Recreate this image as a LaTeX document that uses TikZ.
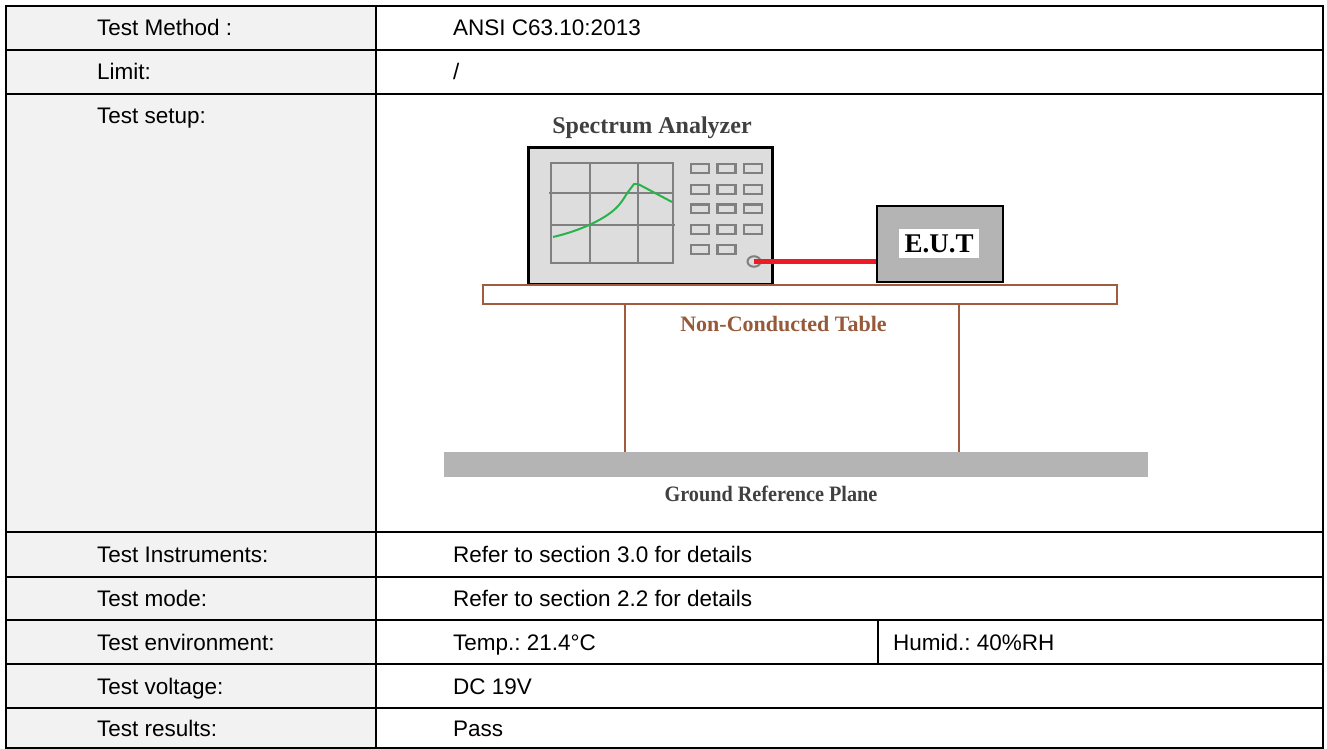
\documentclass[tikz,border=0pt]{standalone}
\usepackage{fontspec}
\usetikzlibrary{shapes.geometric}
\setmainfont{Liberation Sans}
\newfontfamily\serifbf{Liberation Serif}
\newfontfamily\serifcond{Liberation Serif}[FakeStretch=0.92]
\definecolor{leftgray}{RGB}{242,242,242}
\definecolor{safill}{RGB}{221,221,221}
\definecolor{gridgray}{RGB}{128,128,128}
\definecolor{curvegreen}{RGB}{40,180,75}
\definecolor{cablered}{RGB}{237,28,36}
\definecolor{eutgray}{RGB}{180,180,180}
\definecolor{tablebrown}{RGB}{160,92,60}
\definecolor{labelbrown}{RGB}{150,90,58}
\definecolor{titlegray}{RGB}{64,64,64}
\frenchspacing
\begin{document}
\begin{tikzpicture}[x=1pt,y=-1pt,
  rule/.style={line width=1.8pt,black},
  lbl/.style={font=\fontsize{22.5}{26}\selectfont,anchor=base west,inner sep=0pt},
  sabox/.style={draw=black,line width=3pt,fill=safill,inner sep=0pt},
  btn/.style={draw=gridgray,line width=2.1pt,fill=safill,inner sep=0pt,minimum width=18pt,minimum height=8.7pt},
  gridln/.style={draw=gridgray,line width=1.6pt},
  eutbox/.style={draw=black,line width=2.5pt,fill=eutgray,inner sep=0pt},
  cable/.style={draw=cablered,line width=4.5pt},
  tabletop/.style={draw=tablebrown,line width=2pt,fill=white,inner sep=0pt},
  leg/.style={draw=tablebrown,line width=2pt},
  plate/.style={fill=eutgray,inner sep=0pt},
  serifbold/.style={font=\serifbf\bfseries\fontsize{#1}{#1}\selectfont,inner sep=0pt},
  serifcondbold/.style={font=\serifcond\bfseries\fontsize{#1}{#1}\selectfont,inner sep=0pt}
]
\useasboundingbox (0,0) rectangle (1327,749);
% ---------- table ----------
\fill[leftgray] (6,6) rectangle (376,748);
\draw[rule] (6,6) rectangle (1323,748);
\draw[rule] (376,6) -- (376,748);
\foreach \y in {50,94,532,577,620,664,708} {\draw[rule] (6,\y) -- (1323,\y);}
\draw[rule] (878,620) -- (878,664);
% left texts
\node[lbl] (l1) at (97,36) {Test Method :};
\node[lbl] (l2) at (97,80) {Limit:};
\node[lbl] (l3) at (97,124) {Test setup:};
\node[lbl] (l4) at (97,562.5) {Test Instruments:};
\node[lbl] (l5) at (97,606.5) {Test mode:};
\node[lbl] (l6) at (97,650) {Test environment:};
\node[lbl] (l7) at (97,694) {Test voltage:};
\node[lbl] (l8) at (97,736) {Test results:};
% right texts
\node[lbl] (r1) at (453,36) {ANSI C63.10:2013};
\node[lbl] (r2) at (453,80) {/};
\node[lbl] (r4) at (453,562.5) {Refer to section 3.0 for details};
\node[lbl] (r5) at (453,606.5) {Refer to section 2.2 for details};
\node[lbl] (r6) at (453,650) {Temp.: 21.4\symbol{"00B0}C};
\node[lbl] (r6b) at (893,650) {Humid.: 40\%RH};
\node[lbl] (r7) at (453,694) {DC 19V};
\node[lbl] (r8) at (453,736) {Pass};
% ---------- setup diagram ----------
\node[serifbold=24,text=titlegray] (satitle) at (652,128) {Spectrum Analyzer};
\node[sabox,minimum width=244pt,minimum height=137pt] (sa) at (650,215.5) {};
% screen grid
\draw[gridln] (551,163) rectangle (673,263);
\draw[gridln] (590,163) -- (590,263);
\draw[gridln] (638,163) -- (638,263);
\draw[gridln] (549,193) -- (673,193);
\draw[gridln] (551,225) -- (675,225);
% trace
\draw[curvegreen,line width=2pt,line join=round] (553,237)
  .. controls (575,232) and (600,222) .. (614,210)
  .. controls (622,203) and (625,196) .. (628,192)
  -- (634,184) -- (638,184) -- (672,202);
% buttons
\foreach \row/\y in {1/168.7,2/189.7,3/208.8,4/229.5} {
  \foreach \col/\x in {1/700,2/726.5,3/753} {
    \node[btn] (b\row\col) at (\x,\y) {};
  }
}
\node[btn] (b51) at (700,249.5) {};
\node[btn] (b52) at (726.5,249.5) {};
\node[ellipse,draw=gridgray,line width=2pt,fill=safill,minimum width=13pt,minimum height=10.5pt,inner sep=0pt] (port) at (754,261.5) {};
% EUT
\node[eutbox,minimum width=126pt,minimum height=76pt] (eut) at (940,244) {};
\node[fill=white,minimum width=80pt,minimum height=29pt,inner sep=0pt,font=\serifbf\bfseries\fontsize{27}{27}\selectfont] (eutlbl) at (939,243.5) {E.U.T};
\draw[cable] (port.center) -- (port.center -| eut.west);
% table
\node[tabletop,minimum width=634pt,minimum height=19pt] (tt) at (800,294.5) {};
\node[plate,minimum width=704pt,minimum height=25pt] (plate) at (796,464.5) {};
\coordinate (leg1) at (625,0);
\coordinate (leg2) at (959,0);
\draw[leg] (tt.south -| leg1) -- (plate.north -| leg1);
\draw[leg] (tt.south -| leg2) -- (plate.north -| leg2);
\node[serifbold=22,text=labelbrown] (ttlbl) at (783.5,324) {Non-Conducted Table};
\node[serifcondbold=22,text=titlegray] (platelbl) at (771,494) {Ground Reference Plane};
\end{tikzpicture}
\end{document}
